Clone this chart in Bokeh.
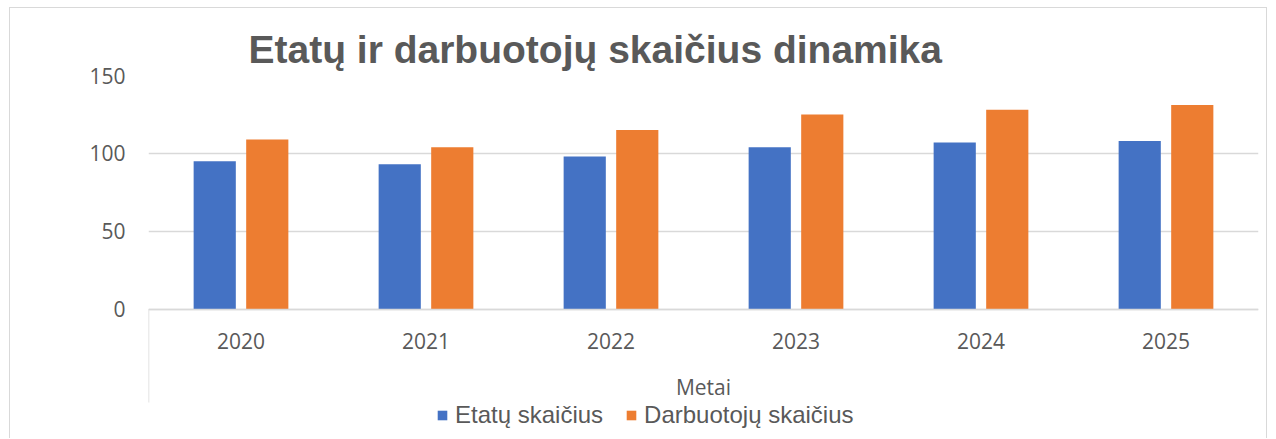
from bokeh.plotting import figure
from bokeh.models import FactorRange, Range1d, FixedTicker, Legend, LegendItem, ColumnDataSource
from bokeh.transform import dodge
from bokeh.embed import file_html
from bokeh.resources import INLINE

# ---- data ----
years = ["2020", "2021", "2022", "2023", "2024", "2025"]
etatu_skaicius = [95, 93, 98, 104, 107, 108]
darbuotoju_skaicius = [109, 104, 115, 125, 128, 131]
y_ticks = [0, 50, 100, 150]
series_names = ["Etatų skaičius", "Darbuotojų skaičius"]
title_text = "Etatų ir darbuotojų skaičius dinamika"
x_title = "Metai"

BLUE = "#4472C4"
ORANGE = "#ED7D31"
GRAY_TXT = "#595959"
GRID = "#d9d9d9"

src = ColumnDataSource(dict(year=years, a=etatu_skaicius, b=darbuotoju_skaicius))

y_min = -83.5          # frame extends below zero to hold the category labels and legend
divider_bottom = -59.7  # where the category-axis divider line ends

p = figure(
    width=1258, height=431,
    x_range=FactorRange(*years, range_padding=0),
    y_range=Range1d(y_min, 150),
    output_backend="svg", toolbar_location=None,
    min_border_left=138, min_border_right=10, min_border_top=67, min_border_bottom=0,
)
p.outline_line_color = None
p.styles = {
    "border-left": "1px solid #d9d9d9",
    "border-top": "1px solid #d9d9d9",
    "border-right": "1px solid #d9d9d9",
    "margin-left": "9px",
    "margin-top": "7px",
}

r1 = p.vbar(x=dodge("year", -0.142, range=p.x_range), top="a", width=0.228, source=src,
            fill_color=BLUE, line_color=None)
r2 = p.vbar(x=dodge("year", 0.142, range=p.x_range), top="b", width=0.228, source=src,
            fill_color=ORANGE, line_color=None)

# left divider of the category axis (below zero)
div_src = ColumnDataSource(dict(year=[years[0]], y0=[0], y1=[divider_bottom]))
p.segment(x0=dodge("year", -0.5, range=p.x_range), x1=dodge("year", -0.5, range=p.x_range),
          y0="y0", y1="y1", source=div_src, line_color=GRID, line_width=1.5)

# y axis
p.yaxis.ticker = FixedTicker(ticks=y_ticks)
p.yaxis.axis_line_color = None
p.yaxis.major_tick_line_color = None
p.yaxis.minor_tick_line_color = None
p.yaxis.major_label_standoff = 17
p.yaxis.major_label_text_font = "Open Sans"
p.yaxis.major_label_text_font_size = "21px"
p.yaxis.major_label_text_color = GRAY_TXT

p.ygrid.ticker = FixedTicker(ticks=y_ticks)
p.ygrid.grid_line_color = GRID
p.ygrid.grid_line_width = 1.5
p.xgrid.grid_line_color = None

# x axis at zero
p.xaxis.fixed_location = 0
p.xaxis.axis_line_color = GRID
p.xaxis.axis_line_width = 1.5
p.xaxis.major_tick_line_color = None
p.xaxis.minor_tick_line_color = None
p.xaxis.major_label_standoff = 18
p.xaxis.major_label_text_font = "Open Sans"
p.xaxis.major_label_text_font_size = "21px"
p.xaxis.major_label_text_color = GRAY_TXT
p.xaxis.axis_label = x_title
p.xaxis.axis_label_standoff = 20
p.xaxis.axis_label_text_font = "Open Sans"
p.xaxis.axis_label_text_font_size = "21px"
p.xaxis.axis_label_text_font_style = "normal"
p.xaxis.axis_label_text_color = GRAY_TXT

# title
p.title.text = title_text
p.title.text_font = "Liberation Sans"
p.title.text_font_size = "39px"
p.title.text_font_style = "bold"
p.title.text_color = GRAY_TXT
p.title.align = "left"
p.title.offset = 100
p.title.standoff = 10

legend = Legend(
    items=[LegendItem(label=series_names[0], renderers=[r1]),
           LegendItem(label=series_names[1], renderers=[r2])],
    location=(288, 10), orientation="horizontal",
    label_text_font="Liberation Sans", label_text_font_size="24px", label_text_color=GRAY_TXT,
    glyph_width=12, glyph_height=12, label_standoff=7, spacing=22,
    padding=0, margin=0, border_line_color=None, background_fill_alpha=0,
)
p.add_layout(legend, "center")

open("out.html", "w").write(file_html(p, INLINE))
